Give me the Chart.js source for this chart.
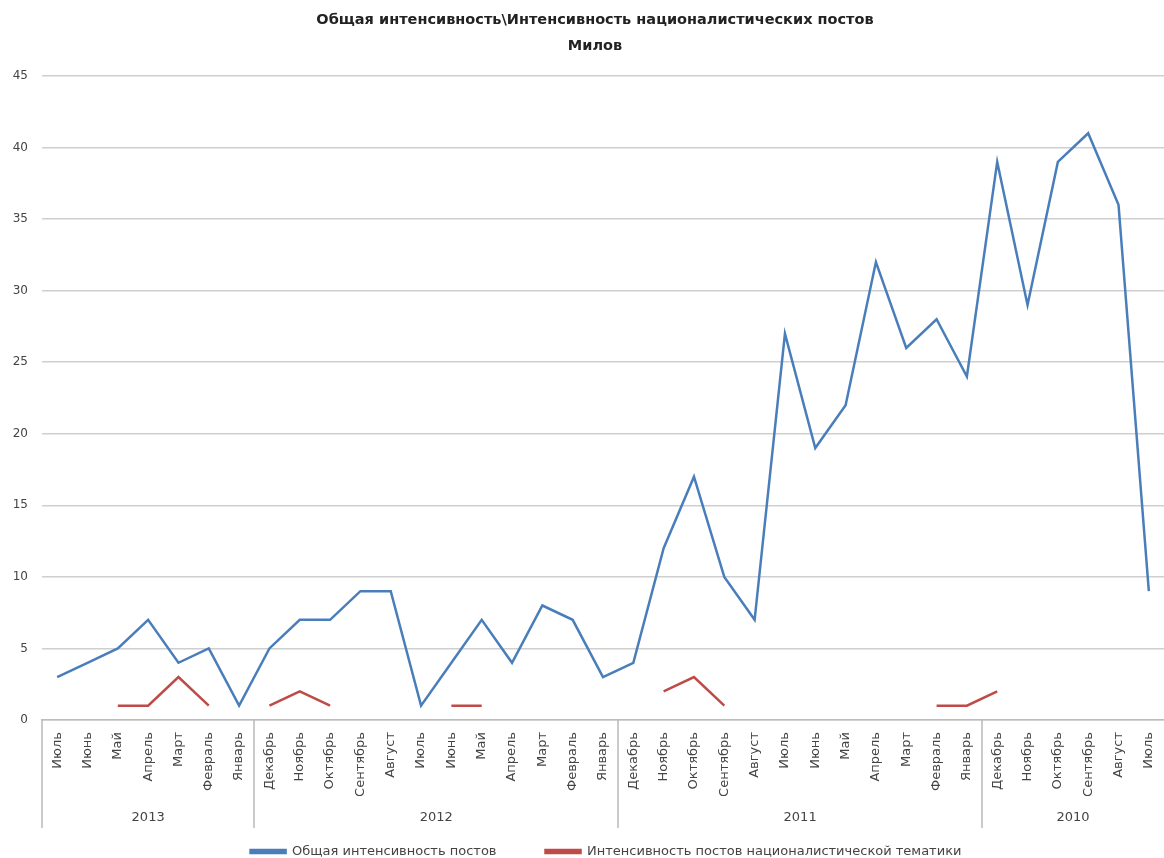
<!DOCTYPE html>
<html>
<head>
<meta charset="utf-8">
<script src="https://cdn.jsdelivr.net/npm/chart.js@4/dist/chart.umd.min.js"></script>
<style>
  html, body { margin: 0; padding: 0; background: #fff; }
  #wrap { width: 1164px; height: 858px; }
</style>
</head>
<body>
<div id="wrap"><canvas id="chart" width="1164" height="858"></canvas></div>
<script>
// months, newest first as in the source sheet
const months = [
  'Июль', 'Июнь', 'Май', 'Апрель', 'Март', 'Февраль', 'Январь',
  'Декабрь', 'Ноябрь', 'Октябрь', 'Сентябрь', 'Август', 'Июль', 'Июнь', 'Май', 'Апрель', 'Март', 'Февраль', 'Январь',
  'Декабрь', 'Ноябрь', 'Октябрь', 'Сентябрь', 'Август', 'Июль', 'Июнь', 'Май', 'Апрель', 'Март', 'Февраль', 'Январь',
  'Декабрь', 'Ноябрь', 'Октябрь', 'Сентябрь', 'Август', 'Июль'
];
const years = ['2013', '2012', '2011', '2010'];
const yearSizes = [7, 12, 12, 6];

const totalPosts = [
  3, 4, 5, 7, 4, 5, 1,
  5, 7, 7, 9, 9, 1, 4, 7, 4, 8, 7, 3,
  4, 12, 17, 10, 7, 27, 19, 22, 32, 26, 28, 24,
  39, 29, 39, 41, 36, 9
];
const nationalistPosts = [
  null, null, 1, 1, 3, 1, null,
  1, 2, 1, null, null, null, 1, 1, null, null, null, null,
  null, 2, 3, 1, null, null, null, null, null, null, 1, 1,
  2, null, null, null, null, null
];

const yTicks = [0, 5, 10, 15, 20, 25, 30, 35, 40, 45];

const FONT = "'DejaVu Sans', 'Liberation Sans', sans-serif";

// year row under the month labels, Excel-style grouped axis
const yearGroups = {
  id: 'yearGroups',
  afterLayout(chart) {
    // excel centres title and legend a bit right of the canvas middle
    chart.titleBlock.left += 13;
    chart.titleBlock.right += 13;
    chart.legend.left += 24;
    chart.legend.right += 24;
  },
  afterDraw(chart) {
    const ctx = chart.ctx;
    const x = chart.scales.x;
    const top = chart.chartArea.bottom;
    const bottom = top + 108;
    ctx.save();
    ctx.strokeStyle = '#b9b9b9';
    ctx.lineWidth = 1.5;
    let start = 0;
    const edges = [chart.chartArea.left];
    yearSizes.forEach((n, i) => {
      const end = start + n - 1;
      const right = end < months.length - 1
        ? (x.getPixelForValue(end) + x.getPixelForValue(end + 1)) / 2
        : chart.chartArea.right;
      const left = edges[edges.length - 1];
      edges.push(right);
      ctx.fillStyle = '#444';
      ctx.font = '13px ' + FONT;
      ctx.textAlign = 'center';
      ctx.textBaseline = 'middle';
      ctx.fillText(years[i], (left + right) / 2, bottom - 10);
      start += n;
    });
    edges.slice(0, -1).forEach(px => {
      ctx.beginPath();
      ctx.moveTo(Math.round(px), top);
      ctx.lineTo(Math.round(px), bottom);
      ctx.stroke();
    });
    ctx.restore();
  }
};

new Chart(document.getElementById('chart'), {
  type: 'line',
  data: {
    labels: months,
    datasets: [
      {
        label: 'Общая интенсивность постов',
        data: totalPosts,
        borderColor: '#4a7ebb',
        backgroundColor: '#4a7ebb',
        borderWidth: 2.5,
        pointRadius: 0,
        tension: 0
      },
      {
        label: 'Интенсивность постов националистической тематики',
        data: nationalistPosts,
        borderColor: '#be4b48',
        backgroundColor: '#be4b48',
        borderWidth: 2.5,
        pointRadius: 0,
        tension: 0,
        spanGaps: false
      }
    ]
  },
  options: {
    responsive: false,
    animation: false,
    layout: { padding: { left: 0, right: 0, top: 0, bottom: -10 } },
    plugins: {
      title: {
        display: true,
        text: ['Общая интенсивность\\Интенсивность националистических постов', 'Милов'],
        color: '#222',
        font: { family: FONT, size: 14.5, weight: 'bold', lineHeight: 26 / 14.5 },
        padding: { top: 7, bottom: 17 }
      },
      legend: {
        position: 'bottom',
        labels: {
          color: '#444',
          font: { family: FONT, size: 13 },
          boxWidth: 35,
          boxHeight: 3,
          padding: 49
        }
      },
      tooltip: { enabled: false }
    },
    scales: {
      x: {
        offset: true,
        grid: { display: false, drawTicks: false },
        border: { display: true, color: '#bdbdbd', width: 1.5 },
        ticks: {
          color: '#444',
          font: { family: FONT, size: 13 },
          minRotation: 90,
          maxRotation: 90,
          autoSkip: false,
          padding: 12
        },
        afterFit(scale) {
          scale.height = 76;
          scale.paddingLeft = 0;
          scale.paddingRight = 0;
        }
      },
      y: {
        min: 0,
        max: 45,
        afterBuildTicks(scale) { scale.ticks = yTicks.map(v => ({ value: v })); },
        grid: { color: '#cfcfcf', lineWidth: 1.5, drawTicks: false },
        border: { display: false },
        ticks: {
          color: '#444',
          font: { family: FONT, size: 12 },
          padding: 14
        },
        afterFit(scale) { scale.width = 42; }
      }
    }
  },
  plugins: [yearGroups]
});
</script>
</body>
</html>
